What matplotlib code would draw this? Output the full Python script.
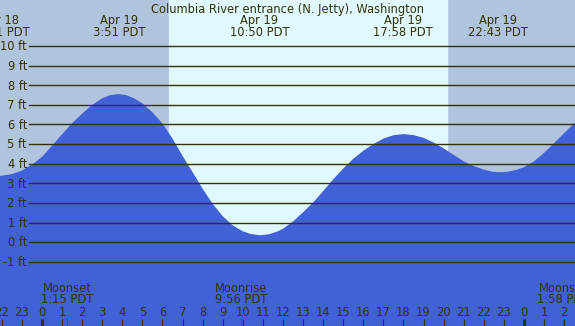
import matplotlib.pyplot as plt
import matplotlib.transforms as mtransforms

# tide heights (ft), hours from Apr 19 00:00 PDT
hours = [-3, -2.5, -2.2, -1.5, -1, -0.5, 0, 0.5, 1, 1.5, 2, 2.5, 3, 3.4, 3.8, 4.2,
         4.6, 5, 5.5, 6, 6.5, 7, 7.5, 8, 8.5, 9, 9.5, 10, 10.4, 10.86, 11.3, 11.7,
         12, 12.5, 13, 13.5, 14, 14.5, 15, 15.5, 16, 16.5, 17, 17.5, 18, 18.5, 19,
         19.5, 20, 20.5, 21, 21.5, 22, 22.4, 22.8, 23.2, 23.6, 24, 24.5, 25, 25.5,
         26, 26.5, 27]
heights = [3.40, 3.37, 3.36, 3.47, 3.65, 3.95, 4.35, 4.92, 5.50, 6.07, 6.55, 7.00,
           7.34, 7.50, 7.55, 7.50, 7.33, 7.08, 6.62, 6.05, 5.28, 4.40, 3.57, 2.72,
           1.95, 1.32, 0.85, 0.55, 0.41, 0.35, 0.40, 0.53, 0.68, 1.05, 1.52, 2.02,
           2.60, 3.20, 3.75, 4.25, 4.66, 5.00, 5.28, 5.45, 5.51, 5.46, 5.32, 5.08,
           4.78, 4.45, 4.12, 3.88, 3.70, 3.60, 3.56, 3.59, 3.68, 3.82, 4.12, 4.55,
           5.05, 5.55, 6.05, 6.50]

# high / low tide labels
ext_hours = [-2.1, 3.85, 10.83, 17.97, 22.72]
ext_dates = ["Apr 18", "Apr 19", "Apr 19", "Apr 19", "Apr 19"]
ext_times = ["21:51 PDT", "3:51 PDT", "10:50 PDT", "17:58 PDT", "22:43 PDT"]

# moon events
moon_hours = [1.25, 9.93, 25.97]
moon_names = ["Moonset", "Moonrise", "Moonset"]
moon_times = ["1:15 PDT", "9:56 PDT", "1:58 PDT"]

sunrise, sunset = 6.32, 20.17
ft_levels = list(range(-1, 11))
tick_hours = list(range(-2, 27))

night = "#b0c4de"
day = "#e0f8ff"
water = "#4161d7"
ink = "#333300"

W, H = 575, 326
px_hr = 20.08
px_ft = 19.6
x0, y0 = 42, 242.1  # pixel of hour 0 / 0 ft

fig = plt.figure(figsize=(W / 100, H / 100), dpi=100)
ax = fig.add_axes([0, 0, 1, 1])
ax.set_xlim(-x0 / px_hr, (W - x0) / px_hr)
ax.set_ylim(-(H - y0) / px_ft, y0 / px_ft)
ax.axis("off")
fig.patch.set_facecolor(night)

ax.axvspan(-10, 40, color=night, zorder=0)
ax.axvspan(sunrise, sunset, color=day, zorder=0.5)
ax.fill_between(hours, heights, -10, color=water, lw=0, zorder=1)

for f in ft_levels:
    ax.axhline(f, xmin=29 / W, xmax=1, color=ink, lw=1.0, zorder=2)
    ax.text(27 / px_hr - x0 / px_hr, f - 4.4 / px_ft, f"{f} ft", ha="right",
            va="baseline", fontsize=8.3, color=ink, zorder=3)

tr = mtransforms.blended_transform_factory(ax.transData, ax.transAxes)


def fy(ypx):
    return 1 - ypx / H


ax.text(0.5, fy(12.7), "Columbia River entrance (N. Jetty), Washington",
        transform=ax.transAxes, ha="center", va="baseline", fontsize=8.3, color=ink)
for h, d, t in zip(ext_hours, ext_dates, ext_times):
    ax.text(h, fy(24), d, transform=tr, ha="center", va="baseline", fontsize=8.3, color=ink)
    ax.text(h, fy(35.7), t, transform=tr, ha="center", va="baseline", fontsize=8.3, color=ink)

for h, n, t in zip(moon_hours, moon_names, moon_times):
    ax.text(h, fy(291.7), n, transform=tr, ha="center", va="baseline", fontsize=8.3, color=ink)
    ax.text(h, fy(303.3), t, transform=tr, ha="center", va="baseline", fontsize=8.3, color=ink)
    ax.vlines(h, 0, fy(318), transform=tr, color="red", lw=0.8, zorder=4)

for h in tick_hours:
    ax.text(h, fy(316), str(h % 24), transform=tr, ha="center", va="baseline",
            fontsize=8.3, color=ink)
    ax.vlines(h, 0, fy(319), transform=tr, color=ink, lw=2.2 if h % 24 == 0 else 0.8, zorder=4)

fig.savefig("out.png", dpi=100, facecolor=night)
